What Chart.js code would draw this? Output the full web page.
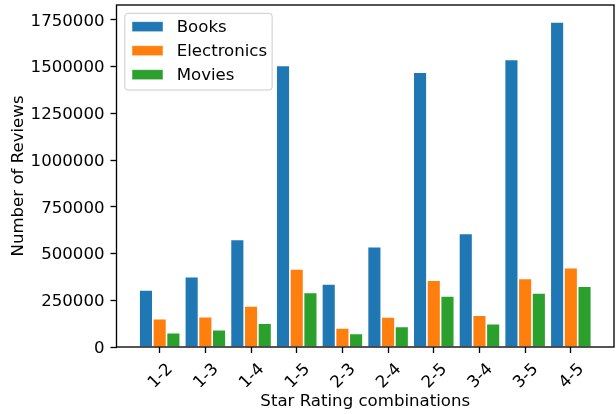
<!DOCTYPE html>
<html>
<head>
<meta charset="utf-8">
<script src="https://cdn.jsdelivr.net/npm/chart.js@4/dist/chart.umd.min.js"></script>
<style>
  html, body { margin: 0; padding: 0; background: #ffffff; }
  #wrap { width: 616px; height: 414px; }
</style>
</head>
<body>
<div id="wrap"><canvas id="c" width="616" height="414"></canvas></div>
<script>
// Review counts per pair of star ratings, one array per product category
const categories = ['1-2', '1-3', '1-4', '1-5', '2-3', '2-4', '2-5', '3-4', '3-5', '4-5'];
const books       = [305000, 376000, 576000, 1507000, 337000, 537000, 1471000, 608000, 1539000, 1739000];
const electronics = [151000, 162000, 219000, 417000, 101500, 160500, 357000, 169500, 367000, 424000];
const movies      = [76500, 92500, 128000, 292000, 73000, 110500, 273000, 125000, 289000, 325000];
const seriesNames = ['Books', 'Electronics', 'Movies'];
const yTickValues = [0, 250000, 500000, 750000, 1000000, 1250000, 1500000, 1750000];

const colors = ['#1f77b4', '#ff7f0e', '#2ca02c'];
const FS = 16.6;
const FAMILY = '"DejaVu Sans", sans-serif';
const font = { family: FAMILY, size: FS };

// Box around the plotting area, drawn above the bars
const framePlugin = {
  id: 'frame',
  afterDatasetsDraw(chart) {
    const { ctx, chartArea: a } = chart;
    ctx.save();
    ctx.strokeStyle = '#000000';
    ctx.lineWidth = 1.33;
    ctx.strokeRect(a.left, a.top, a.right - a.left, a.bottom - a.top);
    ctx.restore();
  }
};

// Category labels under the x axis, turned 45 degrees and centred on their ticks
const rotatedLabelsPlugin = {
  id: 'rotatedLabels',
  afterDraw(chart) {
    const { ctx, chartArea: a } = chart;
    const xs = chart.scales.x;
    const top = a.bottom + 6 + 5.8;
    const h = 1.164 * FS;
    const c = Math.SQRT1_2;
    ctx.save();
    ctx.font = `${FS}px ${FAMILY}`;
    ctx.fillStyle = '#000000';
    ctx.textAlign = 'center';
    ctx.textBaseline = 'alphabetic';
    categories.forEach((label, i) => {
      const w = ctx.measureText(label).width;
      const cx = xs.getPixelForValue(i);
      const cy = top + (w + h) * c / 2;
      ctx.save();
      ctx.translate(cx, cy);
      ctx.rotate(-Math.PI / 4);
      ctx.fillText(label, 0, 0.346 * FS);
      ctx.restore();
    });
    ctx.restore();
  }
};

// Legend in the upper-left corner of the plotting area
const boxLegendPlugin = {
  id: 'boxLegend',
  afterDraw(chart) {
    const { ctx, chartArea: a } = chart;
    const sets = chart.data.datasets;
    ctx.save();
    ctx.font = `${FS}px ${FAMILY}`;
    const x0 = a.left + 8.3, y0 = a.top + 8.3;
    const textX = x0 + 51.9;
    const textW = Math.max(...sets.map(d => ctx.measureText(d.label).width));
    const w = (textX - x0) + textW + 5;
    const h = 76.7;
    const r = 3;
    ctx.beginPath();
    ctx.moveTo(x0 + r, y0);
    ctx.arcTo(x0 + w, y0, x0 + w, y0 + h, r);
    ctx.arcTo(x0 + w, y0 + h, x0, y0 + h, r);
    ctx.arcTo(x0, y0 + h, x0, y0, r);
    ctx.arcTo(x0, y0, x0 + w, y0, r);
    ctx.closePath();
    ctx.fillStyle = 'rgba(255,255,255,0.8)';
    ctx.fill();
    ctx.strokeStyle = '#cccccc';
    ctx.lineWidth = 1;
    ctx.stroke();
    sets.forEach((d, i) => {
      const sy = y0 + 8.4 + i * 24;
      ctx.fillStyle = d.backgroundColor;
      ctx.fillRect(x0 + 7.2, sy, 31, 10);
      ctx.strokeStyle = 'rgba(255,255,255,0.6)';
      ctx.lineWidth = 0.8;
      ctx.strokeRect(x0 + 7.2, sy, 31, 10);
      ctx.fillStyle = '#000000';
      ctx.textBaseline = 'alphabetic';
      ctx.textAlign = 'left';
      ctx.fillText(d.label, textX, y0 + 19 + i * 24);
    });
    ctx.restore();
  }
};

const datasets = [books, electronics, movies].map((vals, k) => ({
  label: seriesNames[k],
  data: vals.map((v, i) => ({ x: i, y: v })),
  backgroundColor: colors[k],
  borderColor: '#ffffff',
  borderWidth: 0.8,
  borderSkipped: 'start',
  categoryPercentage: 0.9,
  barPercentage: 1.0
}));

new Chart(document.getElementById('c'), {
  type: 'bar',
  data: { datasets },
  plugins: [framePlugin, rotatedLabelsPlugin, boxLegendPlugin],
  options: {
    responsive: false,
    animation: false,
    devicePixelRatio: 1,
    layout: { padding: { top: 5, right: 2, left: 0, bottom: 0 } },
    plugins: { legend: { display: false }, tooltip: { enabled: false } },
    scales: {
      x: {
        type: 'linear',
        min: -0.945,
        max: 9.945,
        offset: false,
        afterBuildTicks: s => { s.ticks = categories.map((_, i) => ({ value: i })); },
        afterFit: s => { s.height = 67; s.paddingLeft = 0; s.paddingRight = 0; },
        grid: { display: true, drawOnChartArea: false, drawTicks: true, tickLength: 6, tickWidth: 1.33, tickColor: '#000000', offset: false },
        border: { display: false },
        ticks: { display: false },
        title: { display: true, text: 'Star Rating combinations', color: '#000000', font, padding: { top: 0, bottom: 2 } }
      },
      y: {
        min: 0,
        max: 1830000,
        afterBuildTicks: s => { s.ticks = yTickValues.map(v => ({ value: v })); },
        afterFit: s => { s.width = 116.5; s.paddingTop = 0; s.paddingBottom = 0; },
        grid: { display: true, drawOnChartArea: false, drawTicks: true, tickLength: 6, tickWidth: 1.33, tickColor: '#000000' },
        border: { display: false },
        ticks: { padding: 6, labelOffset: 1.5, color: '#000000', font, callback: v => String(v) },
        title: { display: true, text: 'Number of Reviews', color: '#000000', font, padding: { top: 9, bottom: 0 } }
      }
    }
  }
});
</script>
</body>
</html>
